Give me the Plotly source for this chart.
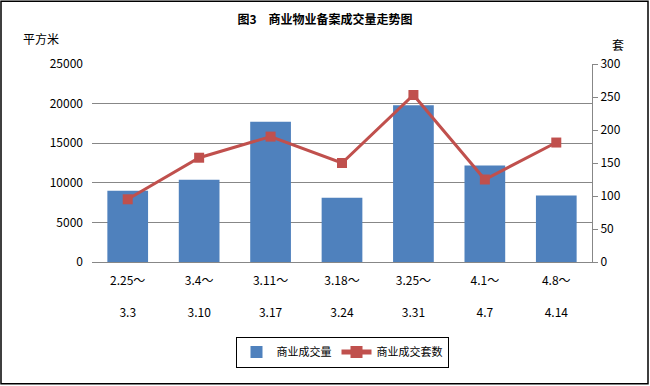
import plotly.graph_objects as go

categories = ["2.25～<br><br>3.3", "3.4～<br><br>3.10", "3.11～<br><br>3.17", "3.18～<br><br>3.24",
              "3.25～<br><br>3.31", "4.1～<br><br>4.7", "4.8～<br><br>4.14"]
area_values = [9000, 10400, 17700, 8100, 19800, 12200, 8400]
unit_values = [95, 158, 190, 150, 253, 125, 181]
y_left_ticks = [0, 5000, 10000, 15000, 20000, 25000]
y_left_labels = ["0", "5000", "10000", "15000", "20000", "25000"]
y_right_ticks = [0, 50, 100, 150, 200, 250, 300]

font = "Noto Sans CJK SC"
grid = "#878787"

fig = go.Figure()
fig.add_trace(go.Bar(x=categories, y=area_values, name="商业成交量",
                     marker=dict(color="#4F81BD", line=dict(width=0)), yaxis="y"))
fig.add_trace(go.Scatter(x=categories, y=unit_values, name="商业成交套数", mode="lines+markers",
                         line=dict(color="#C0504D", width=3),
                         marker=dict(symbol="square", size=10, color="#C0504D"), yaxis="y2"))

fig.update_layout(
    width=650, height=386,
    margin=dict(l=92, r=58, t=64, b=124, autoexpand=False),
    paper_bgcolor="white", plot_bgcolor="white",
    font=dict(family=font, size=12, color="black"),
    bargap=0.43,
    showlegend=True,
    legend=dict(orientation="h", x=0.5, xanchor="center", y=-0.455, yanchor="middle",
                bordercolor="black", borderwidth=1, font=dict(size=11),
                itemwidth=30, tracegroupgap=0,
                itemsizing="constant", traceorder="normal"),
    title=dict(text="<b>图3　商业物业备案成交量走势图</b>", x=0.5, xanchor="center",
               y=0.95, yanchor="middle", font=dict(size=12)),
    xaxis=dict(showgrid=False, showline=True, linecolor=grid, linewidth=1, automargin=False,
               ticks="", tickfont=dict(size=12), ticklabelstandoff=8),
    yaxis=dict(range=[0, 25000], tickvals=y_left_ticks, ticktext=y_left_labels, showgrid=True,
               gridcolor=grid, automargin=False,
               gridwidth=1, showline=False, zeroline=False, ticks="", tickfont=dict(size=12),
               ticklabelstandoff=8),
    yaxis2=dict(range=[0, 300], tickvals=y_right_ticks, overlaying="y", side="right",
                showgrid=False, showline=True, linecolor=grid, linewidth=1, zeroline=False,
                automargin=False,
                ticks="outside", ticklen=5, tickcolor=grid, tickfont=dict(size=12)),
    annotations=[
        dict(text="平方米", xref="paper", yref="paper", x=-0.102, y=1.13, xanchor="center",
             yanchor="middle", showarrow=False, font=dict(size=12)),
        dict(text="套", xref="paper", yref="paper", x=1.052, y=1.10, xanchor="center",
             yanchor="middle", showarrow=False, font=dict(size=12)),
    ],
    shapes=[dict(type="rect", xref="paper", yref="paper", x0=-0.182, x1=1.112, y0=-0.615, y1=1.317,
                 line=dict(color="black", width=1.5), fillcolor="rgba(0,0,0,0)", layer="below")],
)

fig.write_html("out.html", config={"displayModeBar": False},
               post_script="document.body.style.margin='0';")
